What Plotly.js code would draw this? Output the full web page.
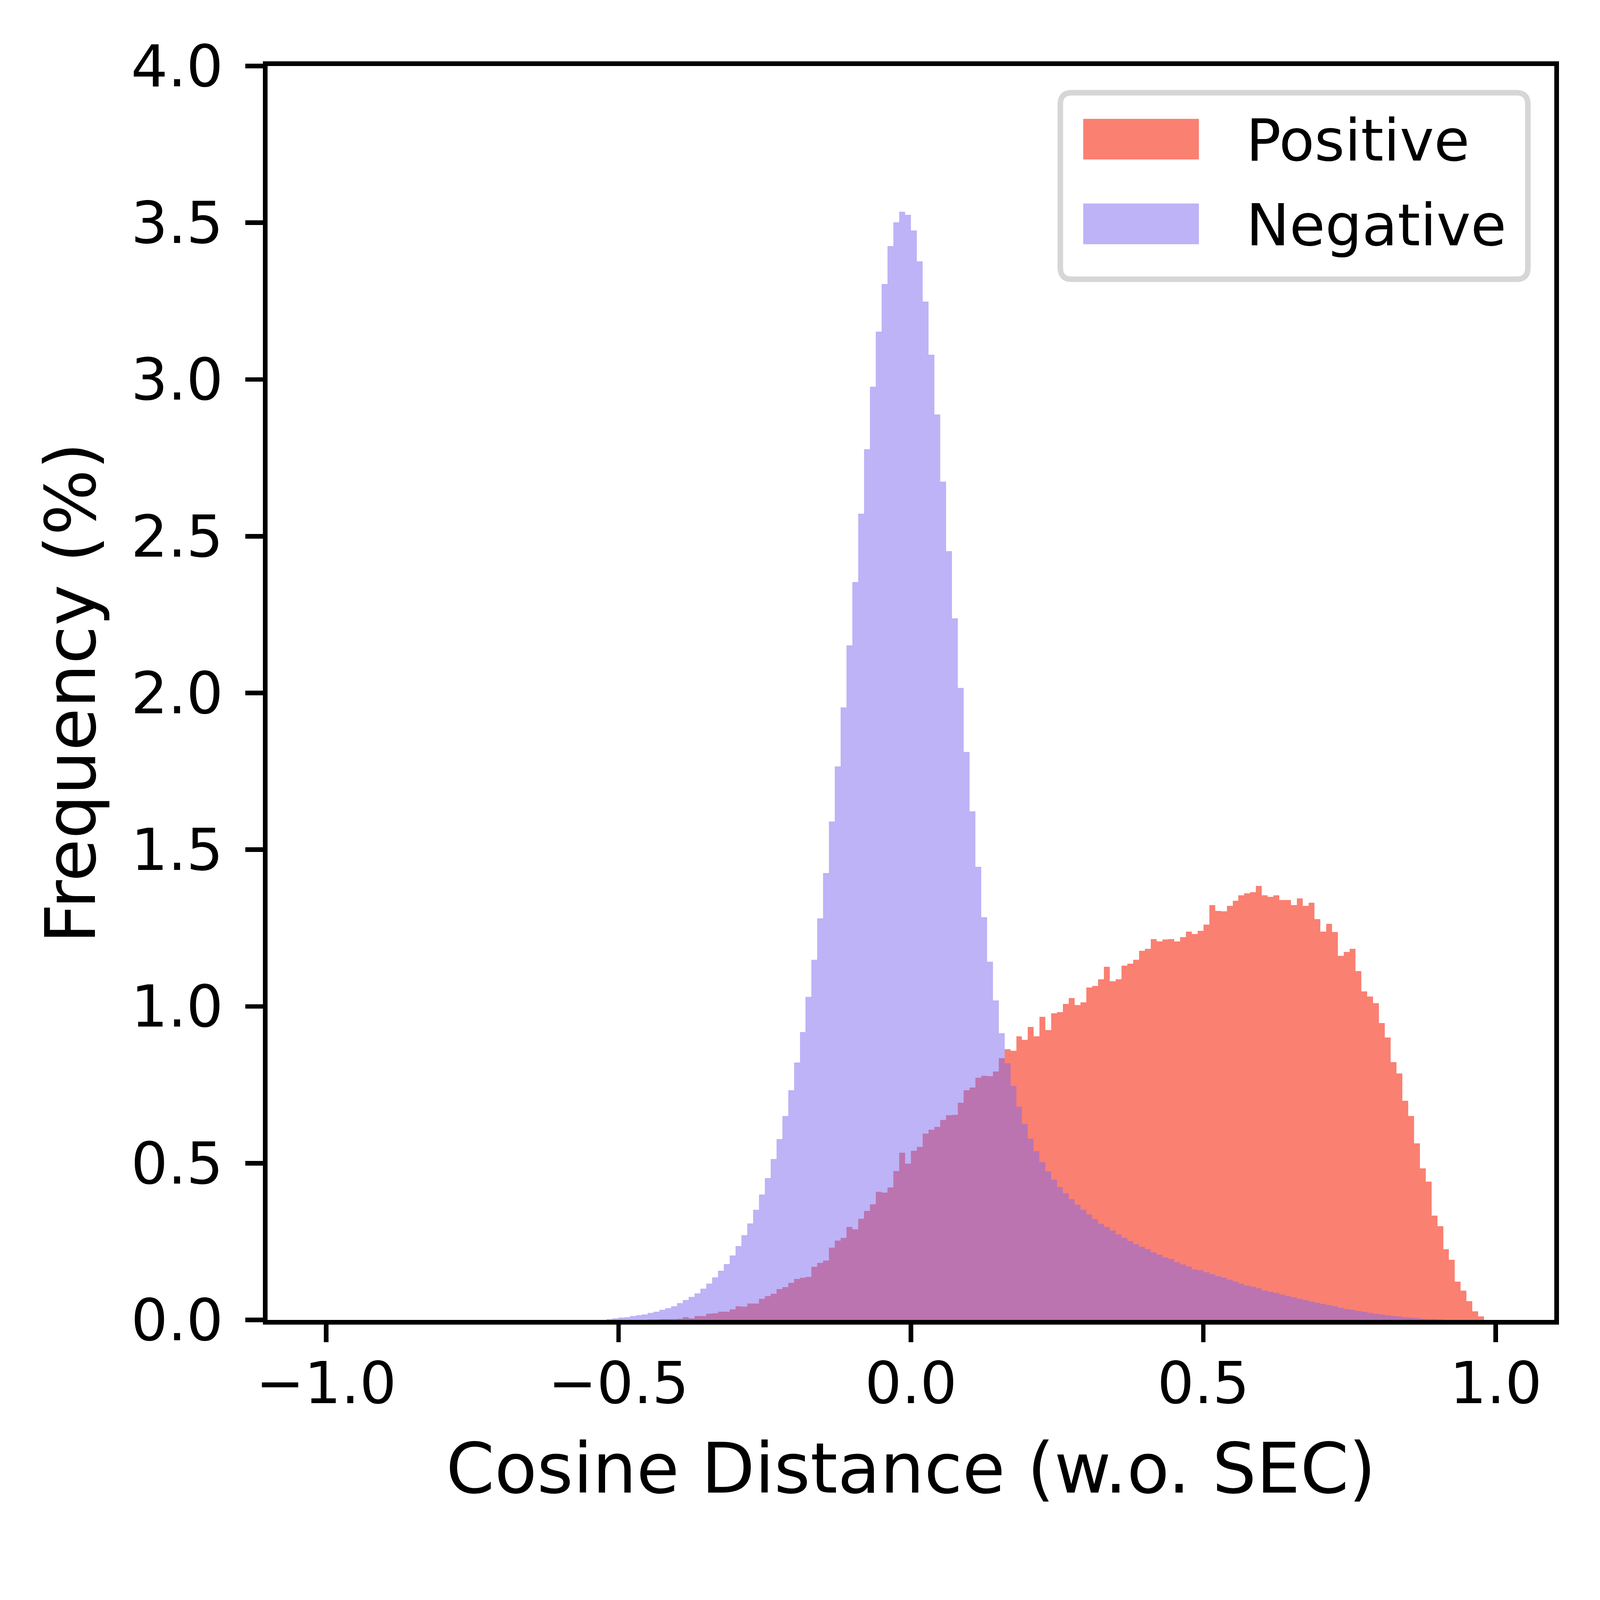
<!DOCTYPE html>
<html>
<head>
<meta charset="utf-8">
<title>Cosine Distance histogram</title>
<script src="https://cdn.plot.ly/plotly-3.0.1.min.js"></script>
<style>
  html, body { margin: 0; padding: 0; background: white; overflow: hidden; }
</style>
</head>
<body>
<div id="chart"></div>
<script>
// Overlaid histograms of cosine distance, 0.01-wide bins, frequency in %.

// --- data ---
const seriesNames = ['Positive', 'Negative'];
const binWidth = 0.01;

// left edge of the first bin of each series
const posStart = -0.45;
const negStart = -0.52;

// Positive: bins -0.45 ... 0.97
const posFreq = [
  0.001, 0.001, 0.002, 0.002, 0.003, 0.004, 0.009, 0.005, 0.013, 0.013,
  0.020, 0.021, 0.026, 0.026, 0.034, 0.043, 0.042, 0.052, 0.052, 0.067,
  0.076, 0.084, 0.098, 0.105, 0.119, 0.131, 0.135, 0.137, 0.169, 0.182,
  0.190, 0.231, 0.253, 0.262, 0.296, 0.289, 0.323, 0.348, 0.369, 0.409,
  0.406, 0.423, 0.475, 0.533, 0.499, 0.540, 0.552, 0.594, 0.607, 0.616,
  0.638, 0.653, 0.654, 0.693, 0.733, 0.742, 0.772, 0.779, 0.778, 0.793,
  0.835, 0.864, 0.859, 0.905, 0.893, 0.935, 0.905, 0.967, 0.925, 0.978,
  0.982, 1.008, 1.027, 1.004, 1.013, 1.060, 1.065, 1.087, 1.127, 1.081,
  1.086, 1.130, 1.136, 1.149, 1.177, 1.184, 1.215, 1.207, 1.214, 1.215,
  1.207, 1.221, 1.239, 1.231, 1.241, 1.261, 1.323, 1.305, 1.304, 1.321,
  1.337, 1.355, 1.361, 1.365, 1.384, 1.355, 1.350, 1.354, 1.340, 1.340,
  1.323, 1.345, 1.321, 1.331, 1.279, 1.239, 1.264, 1.237, 1.161, 1.174,
  1.184, 1.113, 1.048, 1.032, 1.010, 0.947, 0.901, 0.822, 0.786, 0.699,
  0.651, 0.563, 0.484, 0.441, 0.333, 0.299, 0.226, 0.192, 0.122, 0.094,
  0.060, 0.027, 0.011
];

// Negative: bins -0.52 ... 0.90
const negFreq = [
  0.003, 0.005, 0.008, 0.009, 0.012, 0.015, 0.018, 0.022, 0.026, 0.032,
  0.037, 0.044, 0.053, 0.063, 0.073, 0.085, 0.100, 0.116, 0.136, 0.157,
  0.178, 0.205, 0.236, 0.270, 0.308, 0.352, 0.400, 0.452, 0.513, 0.577,
  0.651, 0.733, 0.821, 0.919, 1.031, 1.149, 1.281, 1.425, 1.590, 1.766,
  1.954, 2.152, 2.354, 2.572, 2.778, 2.977, 3.153, 3.305, 3.425, 3.501,
  3.535, 3.525, 3.475, 3.377, 3.249, 3.079, 2.888, 2.674, 2.452, 2.238,
  2.016, 1.812, 1.622, 1.445, 1.285, 1.143, 1.019, 0.915, 0.819, 0.747,
  0.681, 0.625, 0.578, 0.538, 0.504, 0.473, 0.447, 0.424, 0.404, 0.385,
  0.367, 0.351, 0.336, 0.322, 0.307, 0.297, 0.285, 0.273, 0.262, 0.252,
  0.242, 0.233, 0.225, 0.216, 0.208, 0.200, 0.194, 0.185, 0.177, 0.171,
  0.161, 0.158, 0.152, 0.146, 0.140, 0.134, 0.128, 0.122, 0.116, 0.110,
  0.106, 0.101, 0.094, 0.090, 0.086, 0.081, 0.076, 0.072, 0.067, 0.063,
  0.058, 0.055, 0.051, 0.047, 0.043, 0.039, 0.035, 0.032, 0.029, 0.026,
  0.023, 0.020, 0.017, 0.015, 0.013, 0.011, 0.009, 0.007, 0.006, 0.004,
  0.003, 0.002, 0.001
];

const xTickVals = [-1, -0.5, 0, 0.5, 1];
const xTickText = ['\u22121.0', '\u22120.5', '0.0', '0.5', '1.0'];
const yTickVals = [0, 0.5, 1, 1.5, 2, 2.5, 3, 3.5, 4];
const yTickText = ['0.0', '0.5', '1.0', '1.5', '2.0', '2.5', '3.0', '3.5', '4.0'];

const xTitle = 'Cosine Distance (w.o. SEC)';
const yTitle = 'Frequency (%)';

// --- sizing: everything below is laid out for a 4606x4465 canvas and
// scaled down if the window is smaller ---
const REF_W = 4606, REF_H = 4465;
const s = Math.min(1, window.innerWidth / REF_W, window.innerHeight / REF_H);
const S = v => v * s;
const W = Math.floor(REF_W * s), H = Math.floor(REF_H * s);

const M = { l: S(770), r: S(132), t: S(190), b: S(665) };
const FONT = 'DejaVu Sans, Liberation Sans, sans-serif';
const TICK_SIZE = S(167);
const TITLE_SIZE = S(200);
const colors = ['salmon', 'rgba(123,104,238,0.5)'];

document.getElementById('chart').style.width = W + 'px';
document.getElementById('chart').style.height = H + 'px';

function centers(start, n) {
  const out = [];
  for (let i = 0; i < n; i++) {
    out.push(Math.round((start + binWidth * i + binWidth / 2) * 1000) / 1000);
  }
  return out;
}

const traces = [
  {
    type: 'bar',
    name: seriesNames[0],
    x: centers(posStart, posFreq.length),
    y: posFreq,
    width: binWidth,
    marker: { color: colors[0], line: { width: 0 } },
    hoverinfo: 'skip'
  },
  {
    type: 'bar',
    name: seriesNames[1],
    x: centers(negStart, negFreq.length),
    y: negFreq,
    width: binWidth,
    marker: { color: colors[1], line: { width: 0 } },
    hoverinfo: 'skip'
  }
];

// reference-pixel -> paper helpers for the hand-made legend box
const plotW = REF_W - 770 - 132;
const plotH = REF_H - 190 - 665;
const px = v => (v - 770) / plotW;
const py = v => (REF_H - 665 - v) / plotH;

function roundRect(x0, y0, x1, y1, r) {
  const rx = r / plotW, ry = r / plotH;
  const a = px(x0), b = px(x1), top = py(y0), bot = py(y1);
  return 'M' + (a + rx) + ',' + top +
    ' L' + (b - rx) + ',' + top +
    ' Q' + b + ',' + top + ' ' + b + ',' + (top - ry) +
    ' L' + b + ',' + (bot + ry) +
    ' Q' + b + ',' + bot + ' ' + (b - rx) + ',' + bot +
    ' L' + (a + rx) + ',' + bot +
    ' Q' + a + ',' + bot + ' ' + a + ',' + (bot + ry) +
    ' L' + a + ',' + (top - ry) +
    ' Q' + a + ',' + top + ' ' + (a + rx) + ',' + top + ' Z';
}

const legendRows = [342, 586]; // top pixel of each legend patch
const shapes = [
  {
    type: 'path', xref: 'paper', yref: 'paper',
    path: roundRect(3052, 267, 4398, 804, 33),
    fillcolor: 'white',
    line: { color: '#d6d6d6', width: S(16) }
  }
];
const annotations = [];
legendRows.forEach(function (top, i) {
  shapes.push({
    type: 'rect', xref: 'paper', yref: 'paper',
    x0: px(3118), x1: px(3451), y0: py(top + 117), y1: py(top),
    fillcolor: colors[i], line: { width: 0 }
  });
  annotations.push({
    xref: 'paper', yref: 'paper',
    x: px(3584), y: py(top + 62),
    xanchor: 'left', yanchor: 'middle',
    text: seriesNames[i], showarrow: false,
    font: { family: FONT, size: TICK_SIZE, color: 'black' }
  });
});

const axisCommon = {
  showline: true, mirror: true, linecolor: 'black', linewidth: S(13),
  ticks: 'outside', ticklen: S(51), tickwidth: S(13), tickcolor: 'black',
  showgrid: false, zeroline: false,
  tickfont: { family: FONT, size: TICK_SIZE, color: 'black' }
};

const layout = {
  width: W, height: H,
  margin: M,
  barmode: 'overlay', bargap: 0,
  showlegend: false,
  paper_bgcolor: 'white', plot_bgcolor: 'white',
  font: { family: FONT, color: 'black' },
  xaxis: Object.assign({}, axisCommon, {
    range: [-1.1, 1.1],
    tickvals: xTickVals, ticktext: xTickText,
    ticklabelstandoff: Math.round(S(-25)),
    title: { text: xTitle, font: { family: FONT, size: TITLE_SIZE, color: 'black' }, standoff: S(85) }
  }),
  yaxis: Object.assign({}, axisCommon, {
    range: [0, 4],
    tickvals: yTickVals, ticktext: yTickText,
    ticklabelstandoff: Math.round(S(30)),
    title: { text: yTitle, font: { family: FONT, size: TITLE_SIZE, color: 'black' }, standoff: S(40) }
  }),
  shapes: shapes,
  annotations: annotations
};

Plotly.newPlot('chart', traces, layout, { displayModeBar: false, staticPlot: true });
</script>
</body>
</html>
